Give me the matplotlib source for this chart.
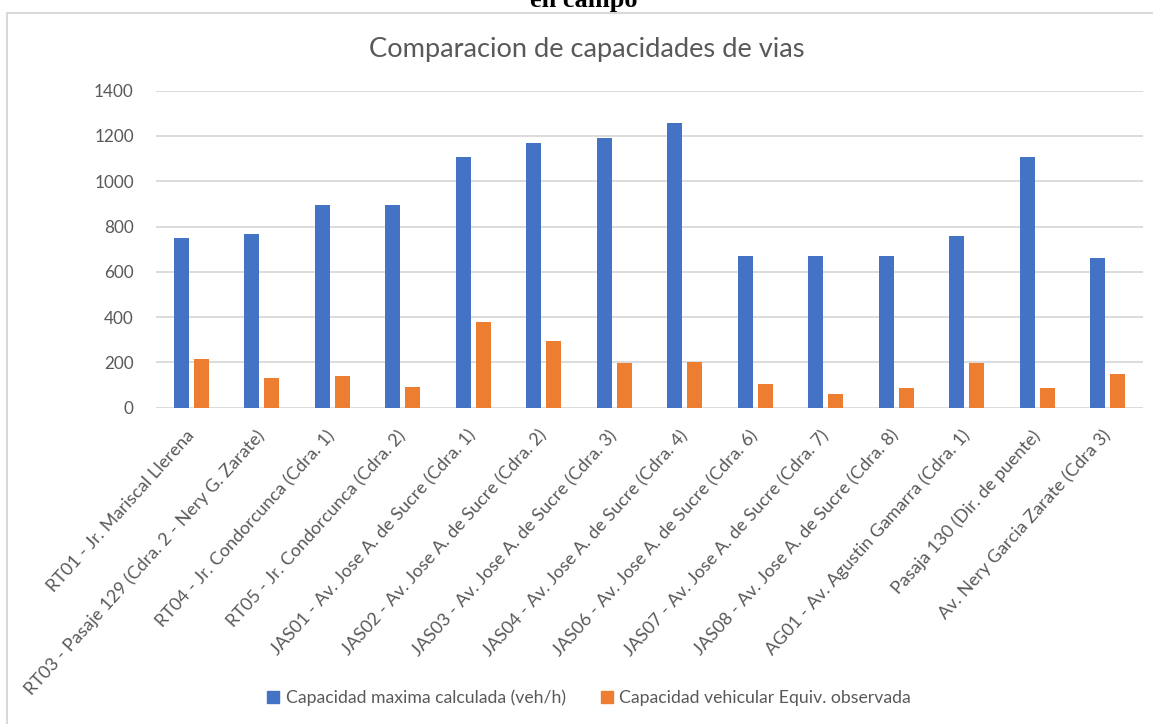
import numpy as np
import matplotlib.pyplot as plt
from matplotlib.patches import Rectangle, Patch

plt.rcParams['font.family'] = ['Lato', 'DejaVu Sans']

# tramos evaluados
tramos = [
    'RT01 - Jr. Mariscal Llerena',
    'RT03 - Pasaje 129 (Cdra. 2 - Nery G. Zarate)',
    'RT04 - Jr. Condorcunca (Cdra. 1)',
    'RT05 - Jr. Condorcunca (Cdra. 2)',
    'JAS01 - Av. Jose A. de Sucre (Cdra. 1)',
    'JAS02 - Av. Jose A. de Sucre (Cdra. 2)',
    'JAS03 - Av. Jose A. de Sucre (Cdra. 3)',
    'JAS04 - Av. Jose A. de Sucre (Cdra. 4)',
    'JAS06 - Av. Jose A. de Sucre (Cdra. 6)',
    'JAS07 - Av. Jose A. de Sucre (Cdra. 7)',
    'JAS08 - Av. Jose A. de Sucre (Cdra. 8)',
    'AG01 - Av. Agustin Gamarra (Cdra. 1)',
    'Pasaja 130 (Dir. de puente)',
    'Av. Nery Garcia Zarate (Cdra 3)',
]
cap_max = [750, 767, 895, 895, 1107, 1169, 1191, 1257, 670, 670, 670, 758, 1107, 661]
cap_obs = [215, 131, 140, 91, 378, 295, 199, 202, 105, 60, 87, 199, 87, 149]

serie1 = 'Capacidad maxima calculada (veh/h)'
serie2 = 'Capacidad vehicular Equiv. observada'
azul = '#4472C4'
naranja = '#ED7D31'
gris = '#595959'

fig = plt.figure(figsize=(11.53, 7.24), dpi=100)
ax = fig.add_axes([0.1353, 0.4369, 0.856, 0.4378])

x = np.arange(len(tramos))
w = 0.21
ax.bar(x - 0.143, cap_max, w, color=azul, zorder=3)
ax.bar(x + 0.143, cap_obs, w, color=naranja, zorder=3)

ax.set_xlim(-0.5, len(tramos) - 0.5)
ax.set_ylim(0, 1400)
ax.set_yticks(range(0, 1401, 200))
ax.yaxis.grid(True, color='#d9d9d9', linewidth=1.3, zorder=0)
for s in ax.spines.values():
    s.set_visible(False)
ax.tick_params(axis='both', length=0, labelsize=12.3, labelcolor=gris)
ax.tick_params(axis='y', pad=16)
ax.set_xticks(x)
ax.set_xticklabels(tramos, rotation=48, ha='right', va='center',
                   rotation_mode='anchor', fontsize=13)
ax.tick_params(axis='x', pad=18)

# titulo del grafico
fig.text(0.5087, 0.931, 'Comparacion de capacidades de vias',
         ha='center', va='center', fontsize=19.6, color=gris)

# texto del documento, cortado arriba
fig.text(0.506, 1 - 7 / 724, 'en campo', ha='center', va='baseline',
         fontsize=19, family='Liberation Serif', weight='bold', color='black')

# marco del grafico
fig.patches.append(Rectangle((7 / 1153, -0.05), 1.1, 1 - 13 / 724 + 0.05,
                             transform=fig.transFigure, fill=False,
                             edgecolor='#d9d9d9', linewidth=1.5))

handles = [Patch(color=azul, label=serie1), Patch(color=naranja, label=serie2)]
fig.legend(handles=handles, loc='center', bbox_to_anchor=(0.511, 1 - 698 / 724),
           ncol=2, frameon=False, fontsize=12.7, labelcolor=gris,
           handlelength=0.7, handleheight=0.7, handletextpad=0.35,
           columnspacing=2.0)

fig.savefig('out.png', dpi=100)
